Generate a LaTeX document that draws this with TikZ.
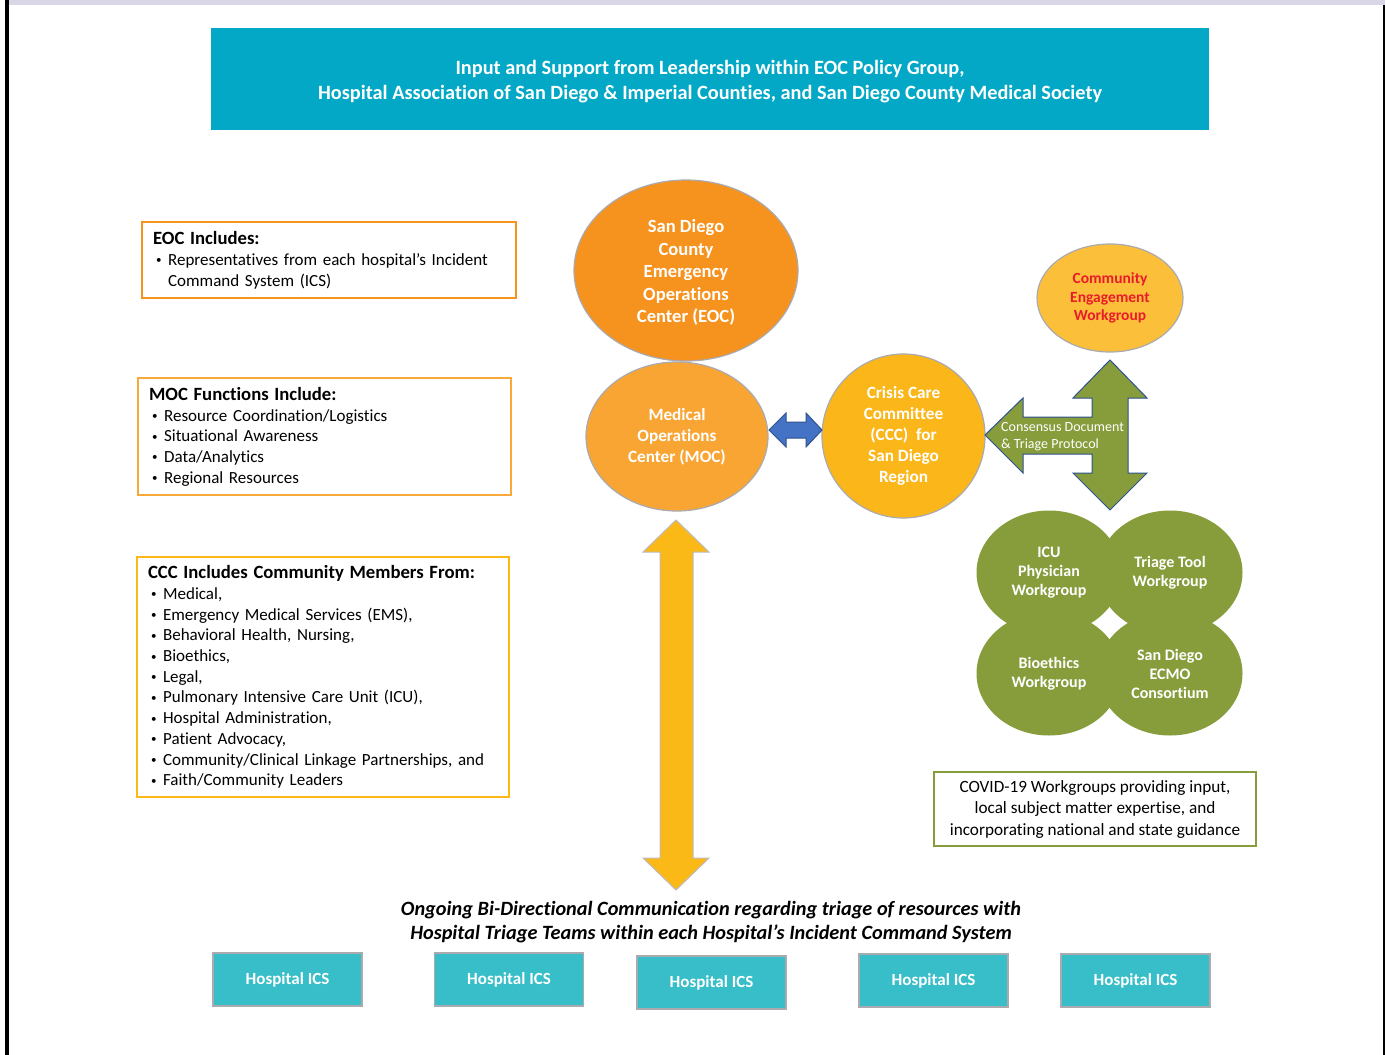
\documentclass[tikz,border=0pt]{standalone}
\usepackage{fontspec}
\setmainfont[Ligatures=NoCommon]{Carlito}
\usetikzlibrary{shapes.geometric}
\definecolor{lav}{RGB}{217,215,231}
\definecolor{banner}{RGB}{2,168,197}
\definecolor{eocfill}{RGB}{246,146,30}
\definecolor{mocfill}{RGB}{248,165,52}
\definecolor{cccfill}{RGB}{251,182,26}
\definecolor{comfill}{RGB}{252,191,58}
\definecolor{comred}{RGB}{232,28,44}
\definecolor{olive}{RGB}{135,157,60}
\definecolor{circgray}{RGB}{170,170,175}
\definecolor{bluearrow}{RGB}{68,114,196}
\definecolor{blueedge}{RGB}{47,82,143}
\definecolor{hospfill}{RGB}{56,190,200}
\definecolor{eocline}{RGB}{247,148,29}
\definecolor{mocline}{RGB}{249,168,58}
\definecolor{cccline}{RGB}{251,185,24}
\newcommand\bitem[1]{\hspace*{3pt}\makebox[12pt][l]{\raisebox{1.5pt}{\fontsize{11}{11}\selectfont •}}#1}
\begin{document}
\begin{tikzpicture}[x=1pt,y=-1pt,
  bubble/.style={ellipse, draw=circgray, line width=1.2pt, inner sep=0pt, text=white, align=center},
  wgroup/.style={ellipse, fill=olive, inner sep=0pt, minimum width=145pt, minimum height=124pt, text=white, align=center, font=\bfseries\fontsize{16}{19}\selectfont},
  infobox/.style={rectangle, line width=2.2pt, inner xsep=11pt, inner ysep=0pt, align=left, anchor=north west},
  hosp/.style={rectangle, fill=hospfill, draw=circgray, line width=1.4pt, minimum width=149pt, minimum height=53pt, text=white, font=\bfseries\fontsize{17}{20}\selectfont},
  blockarrow/.style={line width=1pt, line join=miter}
]
\useasboundingbox (0,0) rectangle (1385,1055);
\fill[white] (0,0) rectangle (1385,1055);
\fill[lav] (8,0) rectangle (1385,5);
\fill[black] (5,0) rectangle (8.5,1055);
\fill[black] (1382.5,5) rectangle (1385,1055);

% banner
\node[rectangle, fill=banner, minimum width=998pt, minimum height=102pt, text=white, align=center,
  font=\bfseries\fontsize{20.3}{25}\selectfont] (banner) at (710,79) {};
\node[text=white, align=center, font=\bfseries\fontsize{20.3}{25}\selectfont] (bannertext) at (710,81.5)
  {Input and Support from Leadership within EOC Policy Group,\\Hospital Association of San Diego \& Imperial Counties, and San Diego County Medical Society};

% info boxes
\node[infobox, draw=eocline, minimum width=374pt, minimum height=76pt, text width=352pt,
  font=\fontsize{17}{21}\selectfont] (eocbox) at (141,221)
  {{\bfseries\fontsize{18.7}{21}\selectfont EOC Includes:}\\
   \bitem{Representatives from each hospital’s Incident}\\
   \hspace*{15pt}Command System (ICS)};
\node[infobox, draw=mocline, minimum width=373pt, minimum height=117pt, text width=351pt,
  font=\fontsize{17}{20.7}\selectfont] (mocbox) at (137,377)
  {{\bfseries\fontsize{18.7}{20.7}\selectfont MOC Functions Include:}\\
   \bitem{Resource Coordination/Logistics}\\
   \bitem{Situational Awareness}\\
   \bitem{Data/Analytics}\\
   \bitem{Regional Resources}};
\node[infobox, draw=cccline, minimum width=372pt, minimum height=240pt, text width=350pt,
  font=\fontsize{17}{20.7}\selectfont] (cccbox) at (136,556)
  {{\bfseries\fontsize{18.7}{20.7}\selectfont CCC Includes Community Members From:}\\
   \bitem{Medical,}\\
   \bitem{Emergency Medical Services (EMS),}\\
   \bitem{Behavioral Health, Nursing,}\\
   \bitem{Bioethics,}\\
   \bitem{Legal,}\\
   \bitem{Pulmonary Intensive Care Unit (ICU),}\\
   \bitem{Hospital Administration,}\\
   \bitem{Patient Advocacy,}\\
   \bitem{Community/Clinical Linkage Partnerships, and}\\
   \bitem{Faith/Community Leaders}};

% bubbles
\node[bubble, fill=eocfill, minimum width=224pt, minimum height=181pt] (eoc) at (686,270.5) {};
\node[text=white, align=center, font=\bfseries\fontsize{18.6}{22.5}\selectfont] (eoctext) at (686,272.5)
  {San Diego\\County\\Emergency\\Operations\\Center (EOC)};
\node[bubble, fill=mocfill, minimum width=182pt, minimum height=149pt,
  font=\bfseries\fontsize{17.2}{21}\selectfont] (moc) at (677,436.5)
  {Medical\\Operations\\Center (MOC)};
\node[bubble, fill=cccfill, minimum width=163pt, minimum height=164pt,
  font=\bfseries\fontsize{17.2}{20.8}\selectfont] (ccc) at (903.5,436)
  {Crisis Care\\Committee\\(CCC)\ \ for\\San Diego\\Region};
\node[bubble, fill=comfill, minimum width=146pt, minimum height=108pt, text=comred,
  font=\bfseries\fontsize{15.5}{18.5}\selectfont] (com) at (1110,298)
  {Community\\Engagement\\Workgroup};

% workgroups
\node[wgroup] (icu) at (1049,572.5) {ICU\\Physician\\Workgroup};
\node[wgroup] (tri) at (1170,572.5) {Triage Tool\\Workgroup};
\node[wgroup] (bio) at (1049,673.5) {Bioethics\\Workgroup};
\node[wgroup] (ecmo) at (1170,673.5) {San Diego\\ECMO\\Consortium};

% blue double arrow MOC <-> CCC
\draw[blockarrow, fill=bluearrow, draw=blueedge]
  (769,430) -- (786,413) -- (786,422) -- (806,422) -- (806,413) -- (822,430)
  -- (806,447) -- (806,438) -- (786,438) -- (786,447) -- cycle;

% green three-way arrow
\draw[blockarrow, fill=olive, draw=blueedge]
  (985,435) -- (1023,398) -- (1023,417) -- (1092,417) -- (1092,398) -- (1073,398)
  -- (1110,360) -- (1147,398) -- (1128,398) -- (1128,473) -- (1147,473)
  -- (1110,510) -- (1073,473) -- (1092,473) -- (1092,454) -- (1023,454)
  -- (1023,473) -- cycle;
\node[anchor=west, text=white, align=left, inner sep=0pt,
  font=\fontsize{14}{17}\selectfont] (cons) at (1001,437)
  {Consensus Document\\\& Triage Protocol};

% yellow vertical double arrow
\draw[blockarrow, fill=cccline, draw=circgray!80]
  (676,520) -- (709,552) -- (693,552) -- (693,858) -- (709,858) -- (676,890)
  -- (643,858) -- (660,858) -- (660,552) -- (643,552) -- cycle;

% covid box
\node[rectangle, draw=olive, line width=2pt, minimum width=322pt, minimum height=74pt,
  align=center, font=\fontsize{17.2}{21.5}\selectfont] (covid) at (1095,809)
  {COVID-19 Workgroups providing input,\\local subject matter expertise, and\\incorporating national and state guidance};

% bottom text
\node[align=center, font=\bfseries\itshape\fontsize{20.3}{24.5}\selectfont] (ongoing) at (711,922)
  {Ongoing Bi-Directional Communication regarding triage of resources with\\Hospital Triage Teams within each Hospital’s Incident Command System};

% hospital ICS boxes
\node[hosp] (h1) at (287.5,979.5) {Hospital ICS};
\node[hosp] (h2) at (509,979.5) {Hospital ICS};
\node[hosp] (h3) at (711.5,982.5) {Hospital ICS};
\node[hosp] (h4) at (933.5,980.5) {Hospital ICS};
\node[hosp] (h5) at (1135.5,980.5) {Hospital ICS};
\end{tikzpicture}
\end{document}
